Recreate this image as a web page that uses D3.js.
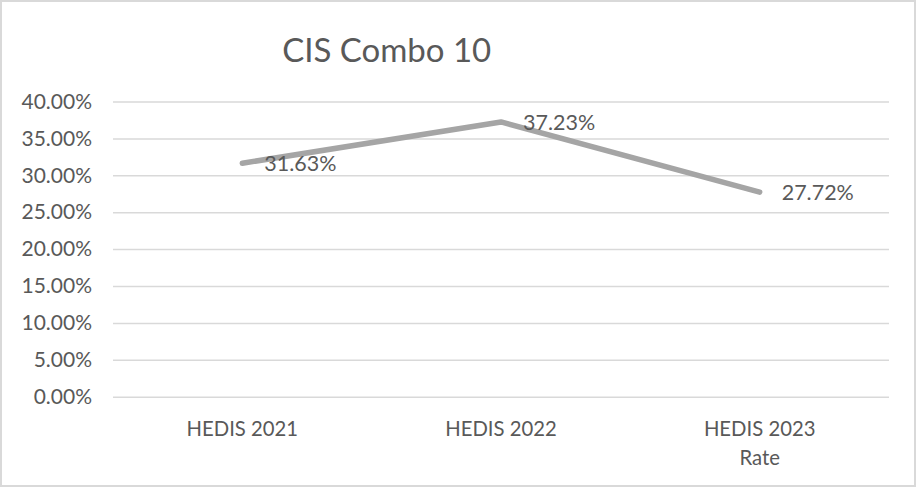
<!DOCTYPE html>
<html><head><meta charset="utf-8">
<script src="https://cdn.jsdelivr.net/npm/d3@7"></script>
<style>html,body{margin:0;padding:0;background:#fff;overflow:hidden}</style>
</head><body>
<svg id="c" width="920" height="488"></svg>
<script>
const title = "CIS Combo 10";
const categories = ["HEDIS 2021", "HEDIS 2022", "HEDIS 2023"];
const seriesName = "Rate";
const rateValues = [0.3163, 0.3723, 0.2772];
const yTicks = [0, 0.05, 0.10, 0.15, 0.20, 0.25, 0.30, 0.35, 0.40];

const W = 920, H = 488;
const m = {left: 113, right: 31, top: 101.5, bottom: 91.3};
const font = "Lato, 'Open Sans', sans-serif";
const txt = "#595959";
const svg = d3.select("#c");

svg.append("rect").attr("x", 1).attr("y", 1).attr("width", 914).attr("height", 485)
  .attr("fill", "#fff").attr("stroke", "#d9d9d9").attr("stroke-width", 2);

const x = d3.scaleBand().domain(categories).range([m.left, W - m.right]);
const y = d3.scaleLinear().domain([0, 0.40]).range([H - m.bottom, m.top]);

// gridlines
const yAxis = d3.axisLeft(y).tickValues(yTicks).tickFormat(d3.format(".2%"))
  .tickSize(-(W - m.right - m.left)).tickPadding(21);
const gy = svg.append("g").attr("transform", `translate(${m.left},0)`).call(yAxis);
gy.select(".domain").remove();
gy.selectAll(".tick line").attr("stroke", "#d9d9d9").attr("stroke-width", 1.5);
gy.selectAll(".tick text").attr("fill", txt).attr("font-family", font).attr("font-size", 21);

// x axis labels
const xAxis = d3.axisBottom(x).tickSize(0).tickPadding(0);
const gx = svg.append("g").attr("transform", `translate(0,${H - m.bottom})`).call(xAxis);
gx.select(".domain").remove();
gx.selectAll(".tick text").attr("fill", txt).attr("font-family", font).attr("font-size", 20.3)
  .attr("dy", null).attr("y", 39.3);
// series name under last category
gx.selectAll(".tick").filter((d, i) => i === categories.length - 1)
  .append("text").attr("y", 68.5).attr("fill", txt).attr("font-family", font)
  .attr("font-size", 20.3).attr("text-anchor", "middle").text(seriesName);

// line
const cx = d => x(d) + x.bandwidth() / 2;
const pts = categories.map((c, i) => [cx(c), y(rateValues[i])]);
svg.append("path").attr("d", d3.line()(pts)).attr("fill", "none")
  .attr("stroke", "#a5a5a5").attr("stroke-width", 5.5)
  .attr("stroke-linecap", "round").attr("stroke-linejoin", "round");

// data labels
svg.append("g").selectAll("text").data(categories).join("text")
  .attr("x", d => cx(d) + 22)
  .attr("y", (d, i) => y(rateValues[i]) + 8)
  .attr("fill", txt).attr("font-family", font).attr("font-size", 21.5)
  .text((d, i) => d3.format(".2%")(rateValues[i]));

// title
svg.append("text").attr("x", 386.7).attr("y", 62.3).attr("text-anchor", "middle")
  .attr("fill", txt).attr("font-family", font).attr("font-size", 33).text(title);
</script>
</body></html>
